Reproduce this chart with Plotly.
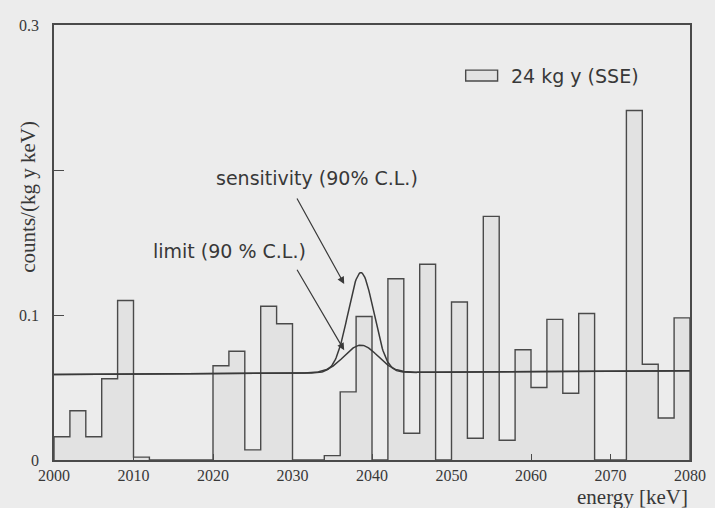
import plotly.graph_objects as go
import numpy as np

# ---- data ----
bin_edges = [2000 + 2 * i for i in range(41)]  # 2 keV bins, 2000..2080
counts = [0.016, 0.034, 0.016, 0.056, 0.110, 0.002, 0.0, 0.0, 0.0, 0.0,
          0.065, 0.075, 0.007, 0.106, 0.094, 0.0, 0.0, 0.003, 0.047, 0.099,
          0.0, 0.125, 0.0185, 0.135, 0.0, 0.109, 0.015, 0.168, 0.0136, 0.076,
          0.050, 0.097, 0.046, 0.101, 0.0, 0.0, 0.241, 0.066, 0.029, 0.098]

# background (flat, slightly tilted) and Gaussian peak parameters
bkg_left, bkg_right = 0.059, 0.0615
peak_center = 2038.6
sens_amp, sens_sigma = 0.069, 1.6
lim_amp, lim_sigma = 0.019, 2.1

x_ticks = [2000, 2010, 2020, 2030, 2040, 2050, 2060, 2070, 2080]
y_ticks = [0, 0.1, 0.2, 0.3]
y_ticktext = ["0", "0.1", "", "0.3"]

LINE = "#4a4a4a"
TXT = "#383838"
BG = "#ececec"
FILL = "#e2e2e2"

centers = [(bin_edges[i] + bin_edges[i + 1]) / 2 for i in range(len(counts))]

fig = go.Figure()
fig.add_trace(go.Bar(x=centers, y=counts, width=2, marker=dict(color=FILL, line=dict(width=0)),
                     showlegend=False, hoverinfo="skip"))

step_x = [bin_edges[0]] + bin_edges
step_y = [0] + counts + [0]
fig.add_trace(go.Scatter(x=step_x, y=step_y, mode="lines", line=dict(shape="hv", color=LINE, width=1.4),
                         showlegend=False, hoverinfo="skip"))

xg = np.linspace(2000, 2080, 801)
bkg = bkg_left + (bkg_right - bkg_left) * (xg - 2000) / 80
sens = bkg + sens_amp * np.exp(-0.5 * ((xg - peak_center) / sens_sigma) ** 2)
lim = bkg + lim_amp * np.exp(-0.5 * ((xg - peak_center) / lim_sigma) ** 2)
fig.add_trace(go.Scatter(x=xg, y=sens, mode="lines", line=dict(color="#3a3a3a", width=1.5), showlegend=False))
fig.add_trace(go.Scatter(x=xg, y=lim, mode="lines", line=dict(color="#3a3a3a", width=1.5), showlegend=False))

sans = "DejaVu Sans"
serif = "Liberation Serif"

annotations = [
    dict(x=2033.1, y=0.1946, xref="x", yref="y", text="sensitivity (90% C.L.)", showarrow=False,
         font=dict(family=sans, size=19, color=TXT)),
    dict(x=2022.1, y=0.1444, xref="x", yref="y", text="limit (90 % C.L.)", showarrow=False,
         font=dict(family=sans, size=19, color=TXT)),
    dict(x=2036.5, y=0.1214, xref="x", yref="y", ax=-48, ay=-87, text="", showarrow=True,
         arrowhead=2, arrowsize=1.2, arrowwidth=1.2, arrowcolor="#3a3a3a"),
    dict(x=2036.5, y=0.0757, xref="x", yref="y", ax=-48, ay=-82, text="", showarrow=True,
         arrowhead=2, arrowsize=1.2, arrowwidth=1.2, arrowcolor="#3a3a3a"),
    dict(x=0.7147, y=0.8826, xref="paper", yref="paper", text="24 kg y (SSE)", showarrow=False,
         xanchor="left", yanchor="middle", font=dict(family=sans, size=19, color=TXT)),
    dict(x=1.0, y=-0.086, xref="paper", yref="paper", text="energy [keV]", showarrow=False,
         xanchor="right", yanchor="middle", font=dict(family=serif, size=21, color=TXT)),
    dict(x=-0.041, y=0.605, xref="paper", yref="paper", text="counts/(kg y keV)", showarrow=False,
         textangle=-90, xanchor="center", yanchor="middle", font=dict(family=serif, size=21, color=TXT)),
]

shapes = [
    dict(type="rect", xref="paper", yref="paper", x0=0.6473, x1=0.6975, y0=0.8713, y1=0.8962,
         line=dict(color=LINE, width=1.4), fillcolor=FILL),
]

# The page body has an 8 px margin, so the figure is sized/margined to land the
# plot frame at the reference's pixel positions inside the 715x508 window.
fig.update_layout(
    width=707, height=500,
    margin=dict(l=46, r=23, t=9, b=48),
    paper_bgcolor=BG, plot_bgcolor=BG,
    bargap=0,
    annotations=annotations,
    shapes=shapes,
    showlegend=False,
    xaxis=dict(range=[2000, 2080], tickvals=x_ticks, ticks="inside", ticklen=6, tickcolor=LINE,
               showgrid=False, zeroline=False, showline=True, linecolor=LINE, linewidth=1.5, mirror=True,
               tickfont=dict(family=serif, size=16, color=TXT)),
    yaxis=dict(range=[0, 0.3], tickvals=y_ticks, ticktext=y_ticktext, ticks="inside", ticklen=10,
               tickcolor=LINE, showgrid=False, zeroline=False, showline=True, linecolor=LINE, linewidth=1.5,
               mirror=True, ticklabelstandoff=10, tickfont=dict(family=serif, size=16, color=TXT)),
)

fig.write_html("out.html", post_script="document.body.style.backgroundColor='%s';" % BG)
